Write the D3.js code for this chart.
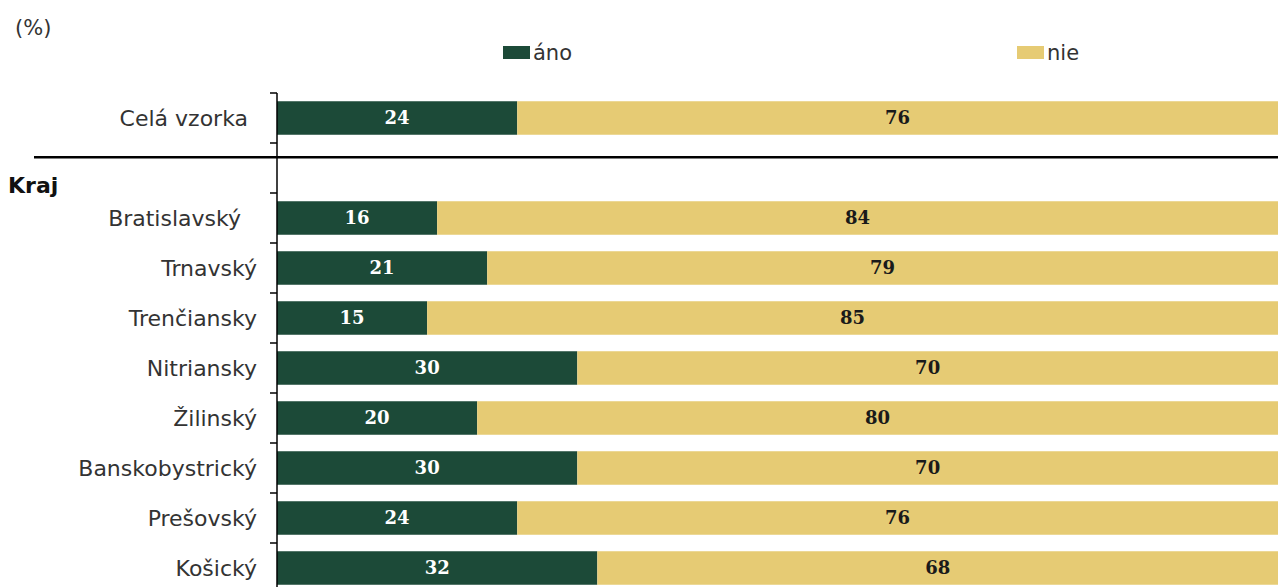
<!DOCTYPE html>
<html>
<head>
<meta charset="utf-8">
<script src="https://cdn.jsdelivr.net/npm/d3@7"></script>
<style>
  body { margin: 0; background: #fff; }
  svg { display: block; }
</style>
</head>
<body>
<div id="chart"></div>
<script>
// total row and the regions (kraje)
const totalLabel = "Celá vzorka";
const groupLabel = "Kraj";
const regions = [
  "Bratislavský",
  "Trnavský",
  "Trenčiansky",
  "Nitriansky",
  "Žilinský",
  "Banskobystrický",
  "Prešovský",
  "Košický",
];
const series = ["áno", "nie"];
// first value is the total row, then the regions
const anoValues = [24, 16, 21, 15, 30, 20, 30, 24, 32];
const nieValues = [76, 84, 79, 85, 70, 80, 70, 76, 68];

const width = 1281;
const height = 587;
const colors = { "áno": "#1c4a38", "nie": "#e6cb74" };

// rows: total, empty row for the "Kraj" heading, then regions
const rows = [totalLabel, groupLabel].concat(regions);
const data = [totalLabel].concat(regions).map(function (name, i) {
  return { name: name, ano: anoValues[i], nie: nieValues[i] };
});

const svg = d3
  .select("#chart")
  .append("svg")
  .attr("width", width)
  .attr("height", height);

const x = d3.scaleLinear().domain([0, 100]).range([277, 1278]);
const y = d3
  .scaleBand()
  .domain(rows)
  .range([93, 593])
  .paddingInner(0.33)
  .paddingOuter(0.165);

// category labels, right aligned next to the axis
svg
  .selectAll("text.cat")
  .data(data)
  .enter()
  .append("text")
  .attr("class", "cat")
  .attr("x", function (d) {
    // the first two labels sit a bit further left in the original
    if (d.name === totalLabel) return 248;
    if (d.name === "Bratislavský") return 241;
    return 257;
  })
  .attr("y", function (d) {
    return y(d.name) + y.bandwidth() / 2;
  })
  .attr("dy", "0.36em")
  .attr("text-anchor", "end")
  .style("font-family", "DejaVu Sans, Verdana, sans-serif")
  .style("font-size", "22px")
  .style("fill", "#333")
  .text(function (d) {
    return d.name;
  });

// group heading
svg
  .append("text")
  .attr("x", 8)
  .attr("y", y(groupLabel) + y.bandwidth() + 8)
  .style("font-family", "DejaVu Sans, Verdana, sans-serif")
  .style("font-size", "22px")
  .style("font-weight", "bold")
  .style("fill", "#111")
  .text(groupLabel);

// stacked segments
const segments = [];
data.forEach(function (d) {
  segments.push({ name: d.name, key: "áno", x0: 0, x1: d.ano, v: d.ano });
  segments.push({ name: d.name, key: "nie", x0: d.ano, x1: 100, v: d.nie });
});

svg
  .selectAll("rect.seg")
  .data(segments)
  .enter()
  .append("rect")
  .attr("class", "seg")
  .attr("x", function (d) {
    return x(d.x0);
  })
  .attr("y", function (d) {
    return y(d.name);
  })
  .attr("width", function (d) {
    return x(d.x1) - x(d.x0);
  })
  .attr("height", y.bandwidth())
  .attr("fill", function (d) {
    return colors[d.key];
  });

svg
  .selectAll("text.val")
  .data(segments)
  .enter()
  .append("text")
  .attr("class", "val")
  .attr("x", function (d) {
    return (x(d.x0) + x(d.x1)) / 2;
  })
  .attr("y", function (d) {
    return y(d.name) + y.bandwidth() / 2;
  })
  .attr("dy", "0.36em")
  .attr("text-anchor", "middle")
  .style("font-family", "DejaVu Serif, serif")
  .style("font-size", "18px")
  .style("font-weight", "bold")
  .style("fill", function (d) {
    return d.key === "áno" ? "#ffffff" : "#1a1a1a";
  })
  .text(function (d) {
    return d.v;
  });

// vertical axis with ticks between the rows
const axisX = x(0);
const tickYs = rows.map(function (r) {
  return y(r) - (y.step() * y.paddingInner()) / 2;
});
svg
  .append("line")
  .attr("x1", axisX)
  .attr("x2", axisX)
  .attr("y1", tickYs[0])
  .attr("y2", height)
  .style("stroke", "#000")
  .style("stroke-width", 1.5);

svg
  .selectAll("line.tick")
  .data(tickYs)
  .enter()
  .append("line")
  .attr("class", "tick")
  .attr("x1", axisX - 7)
  .attr("x2", axisX)
  .attr("y1", function (d) {
    return d;
  })
  .attr("y2", function (d) {
    return d;
  })
  .style("stroke", "#000")
  .style("stroke-width", 1.5);

// separator between the total and the regions
const sepY = y(groupLabel) + 6;
svg
  .append("line")
  .attr("x1", 34)
  .attr("x2", 1278)
  .attr("y1", sepY)
  .attr("y2", sepY)
  .style("stroke", "#000")
  .style("stroke-width", 2.5);

// unit label
svg
  .append("text")
  .attr("x", 15)
  .attr("y", 35)
  .style("font-family", "DejaVu Sans, Verdana, sans-serif")
  .style("font-size", "21px")
  .style("fill", "#333")
  .text("(%)");

// legend
const legendX = [503, 1017];
const legend = svg
  .selectAll("g.legend")
  .data(series)
  .enter()
  .append("g")
  .attr("class", "legend")
  .attr("transform", function (d, i) {
    return `translate(${legendX[i]}, 46)`;
  });

legend
  .append("rect")
  .attr("width", 27)
  .attr("height", 13)
  .attr("fill", function (d) {
    return colors[d];
  });

legend
  .append("text")
  .attr("x", 30)
  .attr("y", 14)
  .style("font-family", "DejaVu Sans, Verdana, sans-serif")
  .style("font-size", "21px")
  .style("fill", "#333")
  .text(function (d) {
    return d;
  });
</script>
</body>
</html>
